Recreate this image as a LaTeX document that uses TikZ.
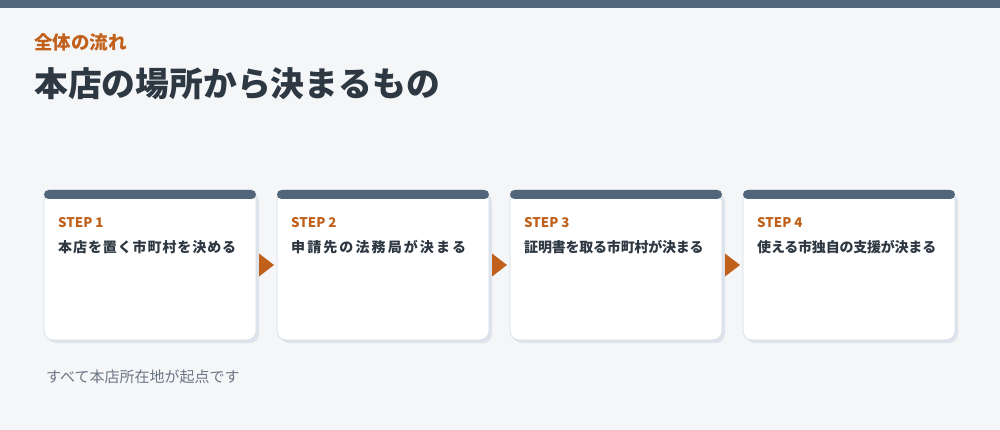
\documentclass[tikz,border=0pt]{standalone}
\usepackage{fontspec}
\setmainfont{Noto Sans CJK JP}
\usetikzlibrary{calc}
\definecolor{slate}{HTML}{52667B}
\definecolor{accent}{HTML}{C0601A}
\definecolor{ink}{HTML}{2D3843}
\definecolor{muted}{HTML}{6B7684}
\definecolor{paper}{HTML}{F5F6F8}
\definecolor{cardline}{HTML}{D3DBE3}
\definecolor{cardshadow}{HTML}{DDE4EC}
\begin{document}
\begin{tikzpicture}[
        x=1pt, y=-1pt,
        card/.style={fill=white, draw=cardline, line width=0.7pt, rounded corners=9pt,
            minimum width=212pt, minimum height=150pt, inner sep=0pt},
        steplabel/.style={anchor=west, inner sep=0pt, text=accent,
            font=\fontsize{13.3pt}{15pt}\selectfont\bfseries},
        steptext/.style={anchor=west, inner sep=0pt, text=ink,
            font=\fontsize{14pt}{17pt}\selectfont\bfseries},
    ]
    \useasboundingbox (0,0) rectangle (1000,430);
    \fill[paper] (0,0) rectangle (1000,430);
    \fill[slate] (0,0) rectangle (1000,8);

    \node[anchor=west, inner sep=0pt, text=accent, font=\fontsize{18.5pt}{21pt}\selectfont\bfseries]
        (kicker) at (34,42.5) {全体の流れ};
    \node[anchor=west, inner sep=0pt, text=ink, font=\fontsize{33.8pt}{38pt}\selectfont\bfseries]
        (title) at (34,84) {本店の場所から決まるもの};

    \foreach \i/\sp/\txt in {1/6.5/本店を置く市町村を決める, 2/15/申請先の法務局が決まる,
            3/-1.5/証明書を取る市町村が決まる, 4/-1.5/使える市独自の支援が決まる} {
        \pgfmathsetmacro\xl{44+233*(\i-1)}
        \fill[cardshadow, rounded corners=9pt] (\xl+3,193) rectangle ++(212,150);
        \node[card] (card\i) at (\xl+106,265) {};
        \fill[slate, rounded corners=4.5pt] (\xl,190) rectangle ++(212,9);
        \node[steplabel] (step\i) at (\xl+14,222.5) {STEP \i};
        \node[steptext] (text\i) at (\xl+14,247) {\addfontfeature{LetterSpace=\sp}\txt};
    }

    \foreach \a/\b in {1/2, 2/3, 3/4}
        \fill[accent] ($(card\a.east)!0.5!(card\b.west)$) ++(-7.5,-11.5)
            -- ++(15,11.5) -- ++(-15,11.5) -- cycle;

    \node[anchor=west, inner sep=0pt, text=muted, font=\fontsize{15pt}{18pt}\selectfont]
        (note) at (46,376.5) {すべて本店所在地が起点です};
\end{tikzpicture}
\end{document}
